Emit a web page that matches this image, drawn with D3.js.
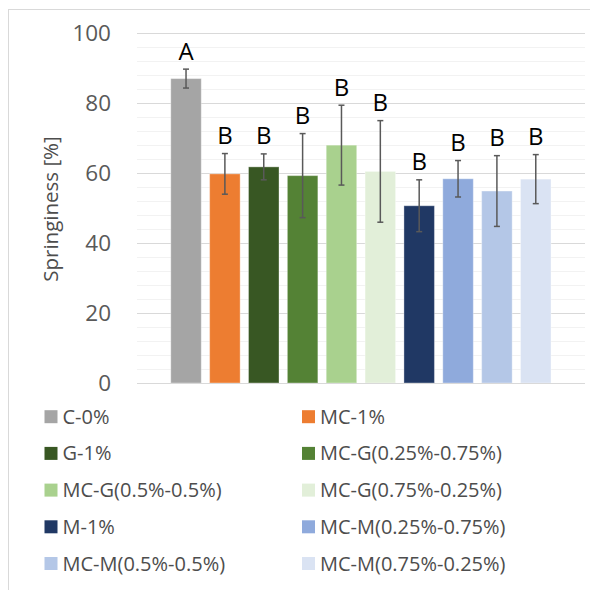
<!DOCTYPE html>
<html><head><meta charset="utf-8">
<script src="https://cdn.jsdelivr.net/npm/d3@7"></script>
<style>html,body{margin:0;padding:0;background:#fff;}svg{display:block;}</style>
</head><body>
<svg id="chart" width="590" height="590"></svg>
<script>
const categories = ["C-0%","MC-1%","G-1%","MC-G(0.25%-0.75%)","MC-G(0.5%-0.5%)","MC-G(0.75%-0.25%)","M-1%","MC-M(0.25%-0.75%)","MC-M(0.5%-0.5%)","MC-M(0.75%-0.25%)"];
const values = [86.9, 59.7, 61.7, 59.2, 67.9, 60.4, 50.6, 58.3, 54.8, 58.2];
const errors = [2.7, 5.8, 3.7, 12.0, 11.4, 14.5, 7.4, 5.2, 10.1, 7.0];
const letters = ["A","B","B","B","B","B","B","B","B","B"];
const colors = ["#a5a5a5","#ed7d31","#385723","#548235","#a9d18e","#e2efd9","#203864","#8faadc","#b4c7e7","#dae3f3"];
const yTicks = [0,20,40,60,80,100];
const yTitle = "Springiness [%]";

const svg = d3.select("#chart");
const font = "'Open Sans', 'DejaVu Sans', sans-serif";

// chart border (extends past the visible area on the right / bottom)
svg.append("rect").attr("x",8.5).attr("y",9.5).attr("width",600).attr("height",600)
  .attr("fill","none").attr("stroke","#d9d9d9").attr("stroke-width",1);

const y = d3.scaleLinear().domain([0,100]).range([383,32.7]);
const x = d3.scaleBand().domain(categories).range([166.6,555.2]).paddingInner(0.215).paddingOuter(0.1075);
const plotLeft = 137, plotRight = 585;

// minor gridlines
const minor = d3.range(0,101,4).filter(v => v % 20 !== 0);
svg.append("g").selectAll("line").data(minor).join("line")
  .attr("x1",plotLeft).attr("x2",plotRight)
  .attr("y1",d=>Math.round(y(d))+0.5).attr("y2",d=>Math.round(y(d))+0.5)
  .attr("stroke","#f2f2f2").attr("stroke-width",1);
// major gridlines
svg.append("g").selectAll("line").data(yTicks).join("line")
  .attr("x1",plotLeft).attr("x2",plotRight)
  .attr("y1",d=>Math.round(y(d))+0.5).attr("y2",d=>Math.round(y(d))+0.5)
  .attr("stroke","#d9d9d9").attr("stroke-width",1);

// y axis tick labels
const yAxis = d3.axisLeft(y).tickValues(yTicks).tickSize(0).tickPadding(0);
const gy = svg.append("g").attr("transform","translate(111,0)").call(yAxis);
gy.select(".domain").remove();
gy.selectAll("text").attr("font-family",font).attr("font-size",22.5).attr("fill","#595959").attr("dy","0.35em");

// y title
svg.append("text").attr("transform","translate(58,209) rotate(-90)")
  .attr("text-anchor","middle").attr("font-family",font).attr("font-size",20.5).attr("fill","#4d4d4d")
  .text(yTitle);

// bars
svg.append("g").selectAll("rect").data(categories).join("rect")
  .attr("x",d=>x(d)).attr("width",x.bandwidth())
  .attr("y",(d,i)=>y(values[i])).attr("height",(d,i)=>y(0)-y(values[i]))
  .attr("fill",(d,i)=>colors[i]).attr("stroke","#ffffff").attr("stroke-opacity",0.35).attr("stroke-width",1);

// axis baseline
svg.append("line").attr("x1",plotLeft).attr("x2",plotRight).attr("y1",Math.round(y(0))+0.5).attr("y2",Math.round(y(0))+0.5)
  .attr("stroke","#d9d9d9").attr("stroke-width",1);

// error bars
const eg = svg.append("g").attr("stroke","#595959").attr("stroke-width",1.5);
categories.forEach((c,i)=>{
  const cx = x(c)+x.bandwidth()/2;
  const t = y(values[i]+errors[i]), b = y(values[i]-errors[i]);
  eg.append("line").attr("x1",cx).attr("x2",cx).attr("y1",t).attr("y2",b);
  eg.append("line").attr("x1",cx-3).attr("x2",cx+3).attr("y1",t).attr("y2",t);
  eg.append("line").attr("x1",cx-3).attr("x2",cx+3).attr("y1",b).attr("y2",b);
});

// letters
svg.append("g").selectAll("text").data(categories).join("text")
  .attr("x",d=>x(d)+x.bandwidth()/2)
  .attr("y",(d,i)=>y(values[i]+errors[i])-9.5)
  .attr("text-anchor","middle").attr("font-family",font).attr("font-size",24).attr("fill","#000")
  .text((d,i)=>letters[i]);

// legend
const lg = svg.append("g");
categories.forEach((c,i)=>{
  const col = i%2, row = Math.floor(i/2);
  const lx = col===0 ? 44.5 : 302;
  const ly = 416.7 + row*36.7;
  lg.append("rect").attr("x",lx).attr("y",ly-6.5).attr("width",13).attr("height",13).attr("fill",colors[i]);
  lg.append("text").attr("x",lx+18).attr("y",ly).attr("dy","0.35em")
    .attr("font-family",font).attr("font-size",20).attr("fill","#4d4d4d").text(c);
});
</script>
</body></html>
